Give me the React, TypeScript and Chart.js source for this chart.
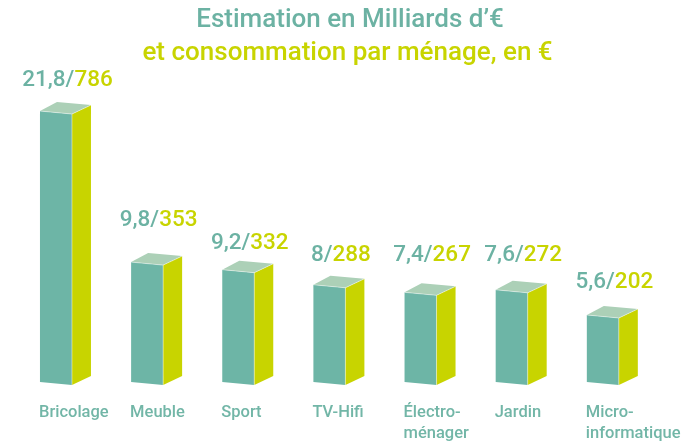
import React, { useEffect, useRef } from "react";
import { Chart, registerables } from "chart.js";

Chart.register(...registerables);

const categories: (string | string[])[] = [
  "Bricolage",
  "Meuble",
  "Sport",
  "TV-Hifi",
  ["Électro-", "ménager"],
  "Jardin",
  ["Micro-", "informatique"],
];
const milliards: number[] = [21.8, 9.8, 9.2, 8, 7.4, 7.6, 5.6];
const parMenage: number[] = [786, 353, 332, 288, 267, 272, 202];
const titleLines: string[] = ["Estimation en Milliards d’€", "et consommation par ménage, en €"];

const TEAL = "#6db5a6";
const TEAL_TEXT = "#6cb2a3";
const LIME = "#c8d400";
const TOP = "#acd0b7";

// purely visual nudges for the value labels (pixels)
const LABEL_NUDGE = [-1, -12, 3, 0, -7, -5, -3];

const fmt = (v: number) => String(v).replace(".", ",");

const bars3d = {
  id: "bars3d",
  afterDatasetsDraw(chart: any) {
    const ctx = chart.ctx as CanvasRenderingContext2D;
    const meta = chart.getDatasetMeta(0);
    const yScale = chart.scales.y;
    const yb = yScale.getPixelForValue(0);
    ctx.save();
    meta.data.forEach((el: any) => {
      const { x, y, width } = el.getProps(["x", "y", "width"], true);
      const x0 = x - width / 2;
      const x1 = x + width / 2;
      const yT = y;
      // front
      ctx.fillStyle = TEAL;
      ctx.beginPath();
      ctx.moveTo(x0, yT);
      ctx.lineTo(x1, yT + 3);
      ctx.lineTo(x1, yb - 0.5);
      ctx.lineTo(x0, yb - 3.5);
      ctx.closePath();
      ctx.fill();
      // side
      ctx.fillStyle = LIME;
      ctx.beginPath();
      ctx.moveTo(x1, yT + 3);
      ctx.lineTo(x1 + 19, yT - 6);
      ctx.lineTo(x1 + 19, yb - 9.5);
      ctx.lineTo(x1, yb - 0.5);
      ctx.closePath();
      ctx.fill();
      // top
      ctx.fillStyle = TOP;
      ctx.beginPath();
      ctx.moveTo(x0, yT);
      ctx.lineTo(x1, yT + 3);
      ctx.lineTo(x1 + 19, yT - 6);
      ctx.lineTo(x0 + 17, yT - 9);
      ctx.closePath();
      ctx.fill();
      // light edge lines
      ctx.strokeStyle = "rgba(255,255,255,0.55)";
      ctx.lineWidth = 0.8;
      ctx.beginPath();
      ctx.moveTo(x0, yT);
      ctx.lineTo(x1, yT + 3);
      ctx.lineTo(x1 + 19, yT - 6);
      ctx.moveTo(x1, yT + 3);
      ctx.lineTo(x1, yb - 0.5);
      ctx.stroke();
    });
    ctx.restore();
  },
  afterDraw(chart: any) {
    const ctx = chart.ctx as CanvasRenderingContext2D;
    const meta = chart.getDatasetMeta(0);
    const xScale = chart.scales.x;
    ctx.save();
    // titles
    ctx.font = "500 26px Roboto";
    ctx.textAlign = "center";
    ctx.textBaseline = "alphabetic";
    ctx.fillStyle = TEAL_TEXT;
    ctx.fillText(titleLines[0], 350, 27);
    ctx.fillStyle = LIME;
    ctx.fillText(titleLines[1], 347.5, 60);

    // value labels
    ctx.font = "500 22.5px Roboto";
    ctx.textAlign = "left";
    meta.data.forEach((el: any, i: number) => {
      const { x, y } = el.getProps(["x", "y"], true);
      const a = fmt(milliards[i]) + "/";
      const b = String(parMenage[i]);
      const wa = ctx.measureText(a).width;
      const wb = ctx.measureText(b).width;
      const cx = x + 11.5;
      const left = cx - (wa + wb) / 2;
      const base = y - 24 + LABEL_NUDGE[i];
      ctx.fillStyle = TEAL_TEXT;
      ctx.fillText(a, left, base);
      ctx.fillStyle = LIME;
      ctx.fillText(b, left + wa, base);
    });

    // category labels
    ctx.font = "500 16.5px Roboto";
    ctx.fillStyle = "#72b6a7";
    categories.forEach((c, i) => {
      const x = xScale.getPixelForValue(i);
      const lines = Array.isArray(c) ? c : [c];
      lines.forEach((line, j) => {
        ctx.fillText(line, x - 17, 417 + j * 21);
      });
    });
    ctx.restore();
  },
};

export default function App() {
  const ref = useRef<HTMLCanvasElement | null>(null);
  useEffect(() => {
    if (!ref.current) return;
    const chart = new Chart(ref.current, {
      type: "bar",
      data: {
        labels: categories as any,
        datasets: [
          {
            label: "Milliards d'€",
            data: milliards,
            backgroundColor: "rgba(0,0,0,0)",
            borderWidth: 0,
            barThickness: 32,
          },
        ],
      },
      options: {
        responsive: false,
        animation: false,
        events: [],
        layout: { padding: { left: 10.4, right: 32.6, top: 70.75, bottom: 62.5 } },
        plugins: {
          legend: { display: false },
          tooltip: { enabled: false },
          title: { display: false },
        },
        scales: {
          x: { display: false, grid: { display: false } },
          y: { display: false, min: 0, max: 25, grid: { display: false } },
        },
      },
      plugins: [bars3d],
    });
    return () => chart.destroy();
  }, []);
  return (
    <div style={{ position: "fixed", left: 0, top: 0, width: 681, height: 448, background: "#fff" }}>
      <canvas ref={ref} width={681} height={448} style={{ display: "block" }} />
    </div>
  );
}
